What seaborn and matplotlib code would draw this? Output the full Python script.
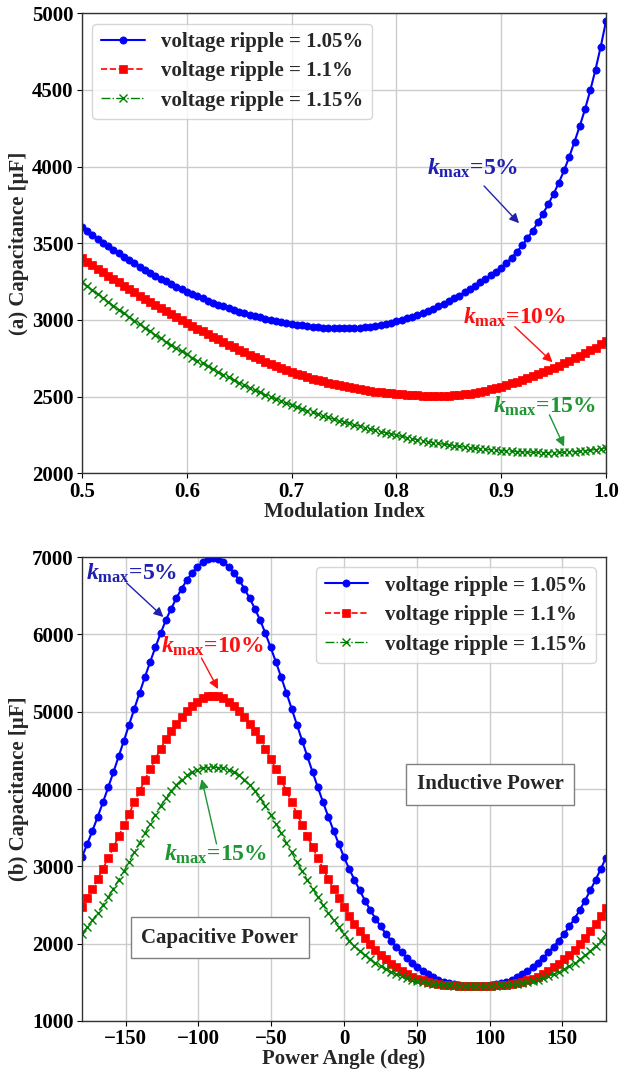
import numpy as np
import pandas as pd
import matplotlib
matplotlib.use("Agg")
import matplotlib.pyplot as plt
import seaborn as sns

# ---------------- data ----------------
# (a) capacitance vs modulation index, m = 0.5 ... 1.0 in steps of 0.005
mod_index = np.linspace(0.5, 1.0, 101)

cap_m_105 = [3609, 3582, 3556, 3530, 3505, 3481, 3457, 3434, 3412, 3390,
             3369, 3348, 3328, 3308, 3289, 3270, 3252, 3234, 3217, 3200,
             3184, 3169, 3154, 3140, 3126, 3113, 3100, 3088, 3076, 3065,
             3054, 3044, 3034, 3025, 3016, 3008, 3000, 2993, 2986, 2980,
             2974, 2969, 2964, 2960, 2956, 2953, 2950, 2948, 2946, 2945,
             2945, 2945, 2946, 2948, 2951, 2955, 2960, 2966, 2973, 2981,
             2990, 3000, 3010, 3021, 3033, 3046, 3060, 3074, 3089, 3105,
             3122, 3140, 3159, 3179, 3200, 3222, 3245, 3268, 3291, 3315,
             3340, 3372, 3406, 3444, 3486, 3532, 3582, 3636, 3694, 3756,
             3822, 3895, 3975, 4065, 4163, 4265, 4375, 4497, 4633, 4783,
             4948]

cap_m_110 = [3404, 3380, 3357, 3334, 3311, 3289, 3267, 3245, 3223, 3202,
             3180, 3159, 3138, 3118, 3098, 3078, 3058, 3038, 3018, 2999,
             2980, 2961, 2943, 2925, 2907, 2890, 2873, 2856, 2839, 2822,
             2805, 2789, 2773, 2758, 2743, 2728, 2714, 2700, 2687, 2674,
             2662, 2650, 2639, 2628, 2618, 2608, 2599, 2591, 2583, 2575,
             2568, 2561, 2555, 2549, 2543, 2538, 2533, 2529, 2525, 2521,
             2518, 2515, 2512, 2510, 2508, 2507, 2506, 2505, 2505, 2505,
             2506, 2508, 2511, 2515, 2520, 2526, 2532, 2539, 2547, 2556,
             2565, 2575, 2586, 2597, 2608, 2620, 2632, 2645, 2658, 2672,
             2687, 2702, 2717, 2733, 2749, 2766, 2783, 2801, 2820, 2840,
             2860]

cap_m_115 = [3245, 3219, 3193, 3168, 3143, 3118, 3093, 3068, 3043, 3019,
             2995, 2971, 2948, 2925, 2902, 2880, 2858, 2836, 2815, 2795,
             2775, 2755, 2735, 2716, 2697, 2679, 2661, 2643, 2625, 2607,
             2590, 2574, 2558, 2542, 2527, 2512, 2498, 2484, 2471, 2458,
             2445, 2432, 2420, 2408, 2397, 2386, 2375, 2364, 2354, 2344,
             2335, 2325, 2316, 2307, 2298, 2289, 2280, 2272, 2264, 2256,
             2248, 2240, 2233, 2226, 2219, 2212, 2206, 2200, 2195, 2190,
             2185, 2180, 2175, 2171, 2167, 2163, 2159, 2156, 2153, 2150,
             2148, 2146, 2144, 2142, 2140, 2138, 2137, 2136, 2135, 2135,
             2135, 2136, 2137, 2139, 2141, 2144, 2147, 2151, 2155, 2160,
             2165]

# (b) capacitance vs power angle, -180 ... 180 deg in steps of 3.6 deg
power_angle = np.linspace(-180, 180, 101)

cap_a_105 = [3120, 3290, 3462, 3642, 3829, 4022, 4220, 4422, 4627, 4834,
             5041, 5246, 5447, 5643, 5832, 6013, 6184, 6330, 6466, 6590,
             6700, 6795, 6873, 6932, 6970, 6983, 6970, 6932, 6873, 6795,
             6700, 6590, 6466, 6330, 6184, 6013, 5832, 5643, 5447, 5246,
             5041, 4834, 4627, 4422, 4220, 4022, 3829, 3642, 3462, 3290,
             3118, 2966, 2824, 2688, 2558, 2436, 2324, 2222, 2127, 2040,
             1960, 1886, 1818, 1755, 1697, 1647, 1603, 1565, 1533, 1507,
             1487, 1472, 1462, 1456, 1453, 1452, 1453, 1456, 1462, 1472,
             1487, 1507, 1533, 1565, 1603, 1647, 1697, 1755, 1818, 1886,
             1960, 2040, 2127, 2222, 2324, 2436, 2558, 2688, 2824, 2966,
             3112]

cap_a_110 = [2470, 2587, 2709, 2837, 2970, 3107, 3247, 3391, 3536, 3683,
             3830, 3976, 4119, 4258, 4392, 4520, 4642, 4746, 4842, 4930,
             5008, 5076, 5131, 5173, 5200, 5209, 5200, 5173, 5131, 5076,
             5008, 4930, 4842, 4746, 4642, 4520, 4392, 4258, 4119, 3976,
             3830, 3683, 3536, 3391, 3247, 3107, 2970, 2837, 2709, 2587,
             2468, 2358, 2259, 2166, 2079, 1998, 1924, 1857, 1796, 1741,
             1692, 1648, 1609, 1575, 1547, 1524, 1505, 1490, 1478, 1469,
             1463, 1459, 1457, 1456, 1455, 1455, 1455, 1456, 1457, 1459,
             1463, 1469, 1478, 1490, 1505, 1524, 1547, 1575, 1609, 1648,
             1692, 1741, 1796, 1857, 1924, 1998, 2079, 2166, 2259, 2358,
             2465]

cap_a_115 = [2122, 2212, 2304, 2400, 2500, 2604, 2712, 2824, 2940, 3060,
             3182, 3306, 3430, 3552, 3670, 3780, 3882, 3974, 4054, 4122,
             4177, 4220, 4250, 4268, 4277, 4280, 4277, 4268, 4250, 4220,
             4177, 4122, 4054, 3974, 3882, 3780, 3670, 3552, 3430, 3306,
             3182, 3060, 2940, 2824, 2712, 2604, 2500, 2400, 2304, 2212,
             2121, 2040, 1968, 1904, 1847, 1796, 1750, 1708, 1670, 1636,
             1606, 1579, 1556, 1536, 1519, 1504, 1492, 1482, 1474, 1467,
             1462, 1458, 1455, 1453, 1452, 1452, 1452, 1453, 1455, 1458,
             1462, 1467, 1474, 1482, 1492, 1504, 1519, 1536, 1556, 1579,
             1606, 1636, 1670, 1708, 1750, 1796, 1847, 1904, 1968, 2040,
             2120]

series_labels = ["voltage ripple = 1.05%", "voltage ripple = 1.1%",
                 "voltage ripple = 1.15%"]
kmax_labels = ["5%", "10%", "15%"]

# ---------------- style ----------------
sns.set_theme(style="whitegrid")
plt.rcParams.update({
    "font.family": ["Liberation Serif", "DejaVu Serif"],
    "font.weight": "bold",
    "axes.labelweight": "bold",
    "axes.edgecolor": "0.2",
    "axes.linewidth": 1.0,
    "grid.color": "0.8",
    "grid.linewidth": 1.0,
    "xtick.bottom": True,
    "ytick.left": True,
    "xtick.major.size": 3.5,
    "ytick.major.size": 3.5,
    "xtick.color": "black",
    "ytick.color": "black",
    "xtick.major.width": 0.8,
    "ytick.major.width": 0.8,
    "mathtext.fontset": "custom",
    "mathtext.it": "Liberation Serif:italic:bold",
    "mathtext.rm": "Liberation Serif:bold",
    "mathtext.bf": "Liberation Serif:bold",
    "axes.unicode_minus": True,
})

line_styles = [
    dict(color="#0000ff", linestyle="-", marker="o", markersize=5.2,
         linewidth=1.5, markeredgecolor="#0000ff", markeredgewidth=0.5),
    dict(color="#ff0000", linestyle="--", marker="s", markersize=5.6,
         linewidth=1.2, markeredgecolor="#ff0000", markeredgewidth=0.5),
    dict(color="#008000", linestyle="-.", marker="x", markersize=5.5,
         linewidth=1.0, markeredgecolor="#008000", markeredgewidth=1.0),
]
text_colors = ["#2020b0", "#ff1010", "#1e9632"]

TICK_FS = 15
LABEL_FS = 15
LEGEND_FS = 15
KMAX_FS = 17

fig = plt.figure(figsize=(6.19, 10.71), dpi=100)
ax_a = fig.add_axes([0.1325, 0.5581, 0.8465, 0.4295])
ax_b = fig.add_axes([0.1325, 0.0467, 0.8465, 0.4332])


def kmax_text(val):
    return r"$k_{\mathrm{max}}$=" + val


def draw_series(ax, x, ys):
    for y, lab, st in zip(ys, series_labels, line_styles):
        df = pd.DataFrame({"x": x, "y": y})
        sns.lineplot(data=df, x="x", y="y", ax=ax, label=lab, **st)


legend_kw = dict(fontsize=LEGEND_FS, handlelength=2.1, handletextpad=0.8,
                 labelspacing=0.45, framealpha=0.8, edgecolor="0.8",
                 borderpad=0.4)

# ---------------- (a) modulation index ----------------
draw_series(ax_a, mod_index, [cap_m_105, cap_m_110, cap_m_115])
ax_a.set_xlim(0.5, 1.0)
ax_a.set_ylim(2000, 5000)
ax_a.set_xticks([0.5, 0.6, 0.7, 0.8, 0.9, 1.0])
ax_a.set_xticklabels(["0.5", "0.6", "0.7", "0.8", "0.9", "1.0"])
ax_a.set_yticks([2000, 2500, 3000, 3500, 4000, 4500, 5000])
ax_a.set_xlabel("Modulation Index", fontsize=LABEL_FS, labelpad=0)
ax_a.set_ylabel("(a) Capacitance [\u03bcF]", fontsize=LABEL_FS, labelpad=2)
ax_a.legend(loc="upper left", **legend_kw)

annot_a = [((0.8724, 3990), (0.8836, 3874), (0.917, 3631)),
           ((0.913, 3015), (0.913, 2956), (0.949, 2724)),
           ((0.9418, 2435), (0.946, 2381), (0.960, 2174))]
for (txy, a0, a1), lab, c in zip(annot_a, kmax_labels, text_colors):
    ax_a.text(txy[0], txy[1], kmax_text(lab), color=c, fontsize=KMAX_FS,
              ha="center", va="center", fontweight="bold")
    ax_a.annotate("", xy=a1, xytext=a0,
                  arrowprops=dict(arrowstyle="-|>", color=c, lw=1.0,
                                  mutation_scale=14, shrinkA=0, shrinkB=0))

# ---------------- (b) power angle ----------------
draw_series(ax_b, power_angle, [cap_a_105, cap_a_110, cap_a_115])
ax_b.set_xlim(-180, 180)
ax_b.set_ylim(1000, 7000)
ax_b.set_xticks([-150, -100, -50, 0, 50, 100, 150])
ax_b.set_yticks([1000, 2000, 3000, 4000, 5000, 6000, 7000])
ax_b.set_xlabel("Power Angle (deg)", fontsize=LABEL_FS, labelpad=0)
ax_b.set_ylabel("(b) Capacitance [\u03bcF]", fontsize=LABEL_FS, labelpad=2)
ax_b.legend(loc="upper right", **legend_kw)

annot_b = [((-145.9, 6793), (-149.3, 6664), (-124.1, 6224)),
           ((-90.0, 5850), (-97.9, 5693), (-86.5, 5292)),
           ((-88.2, 3149), (-87.6, 3290), (-97.8, 4128))]
for (txy, a0, a1), lab, c in zip(annot_b, kmax_labels, text_colors):
    ax_b.text(txy[0], txy[1], kmax_text(lab), color=c, fontsize=KMAX_FS,
              ha="center", va="center", fontweight="bold")
    ax_b.annotate("", xy=a1, xytext=a0,
                  arrowprops=dict(arrowstyle="-|>", color=c, lw=1.0,
                                  mutation_scale=14, shrinkA=0, shrinkB=0))

box_style = dict(boxstyle="square,pad=0.5", facecolor="white",
                 edgecolor="0.5", linewidth=1.0)
ax_b.text(100.3, 4061, "Inductive Power", fontsize=15, fontweight="bold",
          ha="center", va="center", bbox=box_style)
ax_b.text(-85.2, 2075, "Capacitive Power", fontsize=15, fontweight="bold",
          ha="center", va="center", bbox=box_style)

for ax in (ax_a, ax_b):
    ax.tick_params(axis="both", labelsize=TICK_FS, pad=2.5)
    for lbl in ax.get_xticklabels() + ax.get_yticklabels():
        lbl.set_fontweight("bold")
    for sp in ax.spines.values():
        sp.set_color("0.2")
        sp.set_linewidth(1.0)
    ax.set_axisbelow(True)

fig.savefig("out.png", dpi=100)
